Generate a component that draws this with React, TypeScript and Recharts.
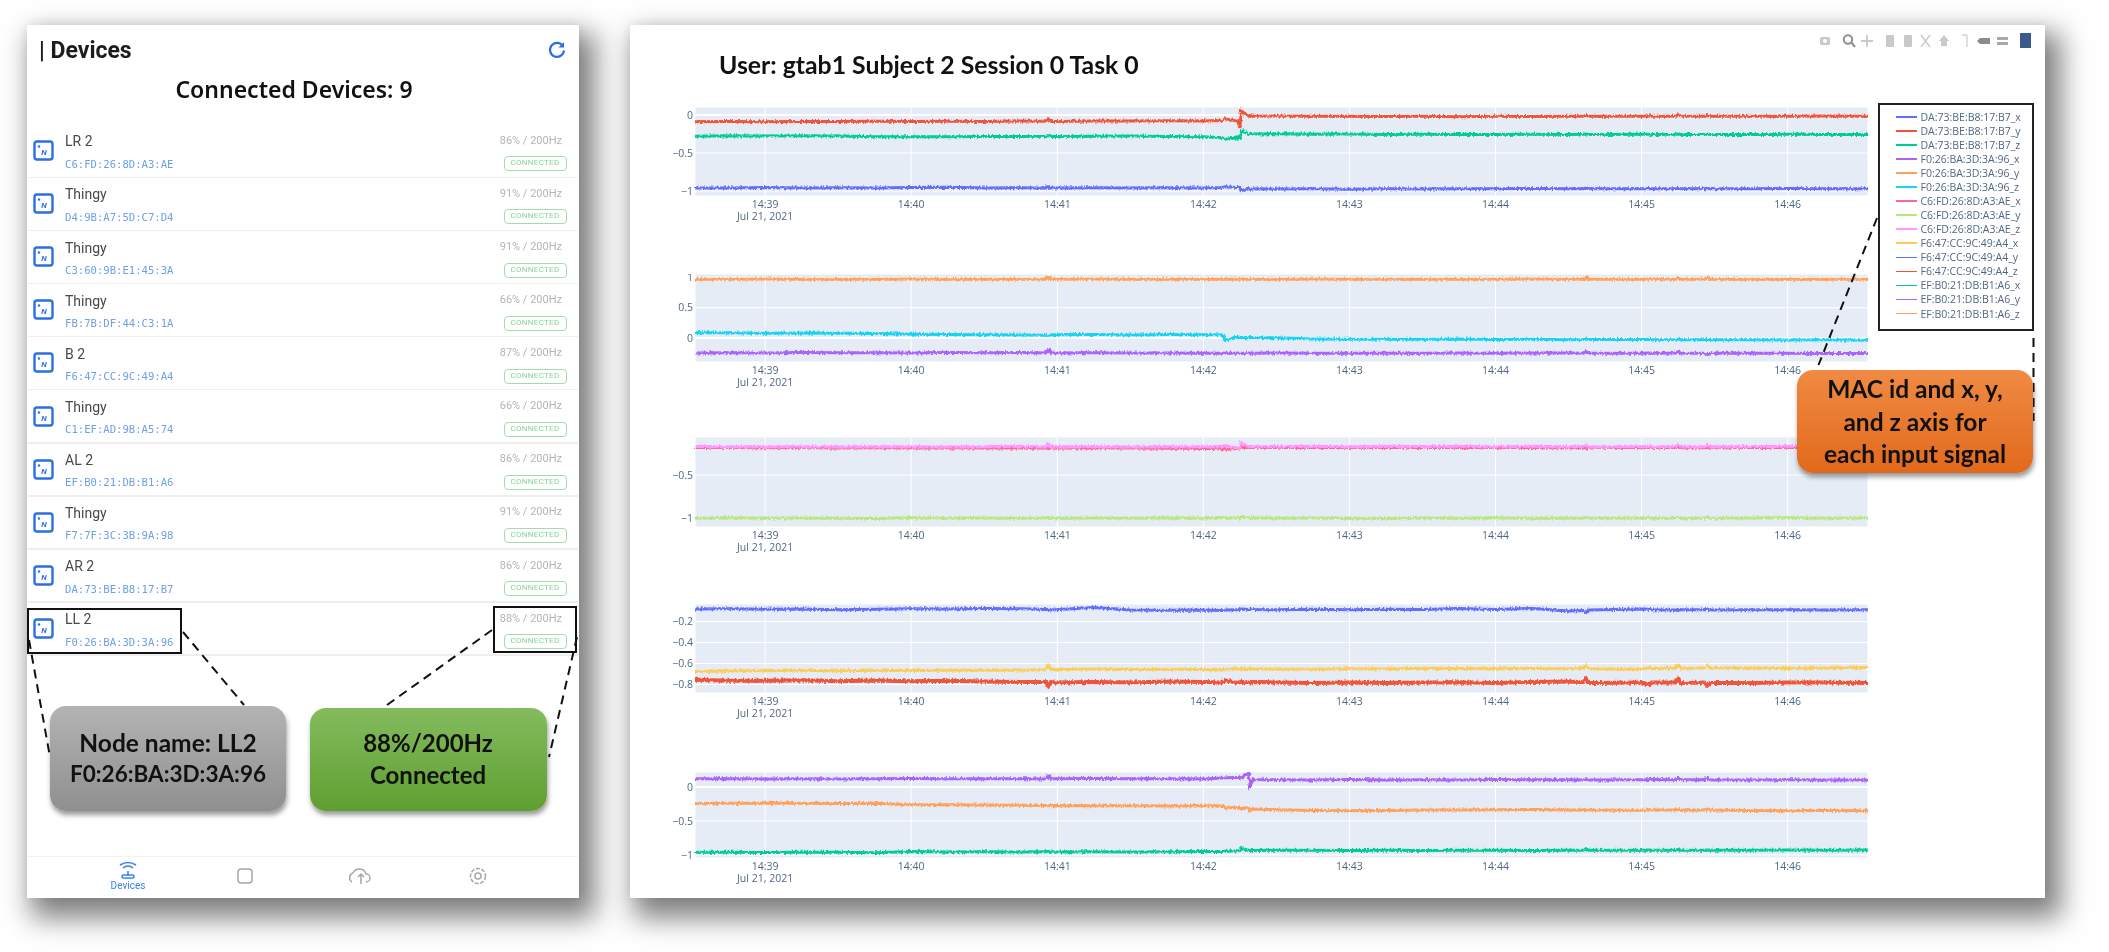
import { CartesianGrid, Line, LineChart, ReferenceLine, XAxis, YAxis } from 'recharts'

// minutes after 14:00
const minutes = [
  38.52, 38.75, 39, 39.25, 39.5, 39.75, 40, 40.25, 40.5, 40.75,
  40.92, 40.94, 40.96, 41.25, 41.5, 41.75, 42, 42.13, 42.15, 42.235,
  42.25, 42.26, 42.31, 42.32, 42.34, 42.5, 42.75, 43, 43.25, 43.5,
  43.75, 44, 44.25, 44.5, 44.6, 44.62, 44.64, 45, 45.05, 45.07,
  45.23, 45.25, 45.27, 45.43, 45.45, 45.47, 45.75, 46, 46.25, 46.55,
]
const minuteTicks = [39, 40, 41, 42, 43, 44, 45, 46]

const daX = [
  -0.96, -0.962, -0.955, -0.96, -0.957, -0.962, -0.955, -0.952, -0.96, -0.956,
  -0.965, -0.94, -0.96, -0.956, -0.96, -0.957, -0.96, -0.955, -0.945, -0.955,
  -0.95, -0.995, -0.972, -0.976, -0.97, -0.975, -0.972, -0.976, -0.97, -0.974,
  -0.97, -0.972, -0.968, -0.972, -0.97, -0.96, -0.97, -0.972, -0.968, -0.97,
  -0.972, -0.965, -0.97, -0.972, -0.968, -0.97, -0.972, -0.968, -0.971, -0.97,
]
const daY = [
  -0.09, -0.085, -0.088, -0.085, -0.087, -0.083, -0.086, -0.083, -0.085, -0.08,
  -0.082, -0.045, -0.085, -0.078, -0.08, -0.076, -0.078, -0.072, -0.05, -0.08,
  -0.17, 0.055, -0.02, -0.005, -0.018, -0.014, -0.018, -0.016, -0.02, -0.018,
  -0.022, -0.017, -0.02, -0.018, -0.016, -0.005, -0.018, -0.016, -0.01, -0.018,
  -0.012, 0.005, -0.014, -0.016, -0.008, -0.018, -0.016, -0.018, -0.015, -0.017,
]
const daZ = [
  -0.28, -0.272, -0.278, -0.274, -0.278, -0.286, -0.288, -0.286, -0.282, -0.284,
  -0.28, -0.27, -0.282, -0.28, -0.276, -0.282, -0.286, -0.3, -0.32, -0.3,
  -0.31, -0.205, -0.25, -0.238, -0.25, -0.246, -0.252, -0.25, -0.256, -0.252,
  -0.256, -0.258, -0.254, -0.256, -0.254, -0.25, -0.256, -0.254, -0.252, -0.256,
  -0.254, -0.25, -0.256, -0.258, -0.25, -0.256, -0.258, -0.255, -0.258, -0.258,
]
const f0X = [
  -0.245, -0.243, -0.245, -0.24, -0.244, -0.242, -0.245, -0.24, -0.244, -0.24,
  -0.245, -0.195, -0.248, -0.244, -0.247, -0.245, -0.25, -0.248, -0.252, -0.248,
  -0.25, -0.252, -0.248, -0.25, -0.252, -0.248, -0.252, -0.25, -0.252, -0.25,
  -0.248, -0.25, -0.246, -0.248, -0.25, -0.225, -0.25, -0.25, -0.246, -0.25,
  -0.248, -0.225, -0.25, -0.252, -0.28, -0.25, -0.252, -0.25, -0.254, -0.256,
]
const f0Y = [
  0.968, 0.97, 0.972, 0.968, 0.97, 0.968, 0.972, 0.97, 0.968, 0.97,
  0.968, 1.0, 0.97, 0.972, 0.968, 0.97, 0.968, 0.97, 0.972, 0.968,
  0.97, 0.972, 0.968, 0.97, 0.968, 0.97, 0.972, 0.968, 0.97, 0.968,
  0.97, 0.968, 0.972, 0.968, 0.97, 1.0, 0.968, 0.97, 0.972, 0.968,
  0.97, 0.985, 0.968, 0.97, 0.995, 0.968, 0.97, 0.968, 0.97, 0.97,
]
const f0Z = [
  0.085, 0.088, 0.08, 0.082, 0.078, 0.074, 0.062, 0.06, 0.055, 0.05,
  0.045, 0.04, 0.055, 0.058, 0.05, 0.058, 0.054, 0.052, -0.035, 0.015,
  0.005, 0.012, 0.006, 0.01, 0.008, 0.004, -0.015, -0.022, -0.02, -0.022,
  -0.016, -0.024, -0.02, -0.03, -0.024, -0.016, -0.026, -0.026, -0.02, -0.03,
  -0.025, -0.018, -0.028, -0.03, -0.022, -0.03, -0.028, -0.034, -0.03, -0.036,
]
const c6X = [
  -0.186, -0.186, -0.188, -0.186, -0.19, -0.188, -0.19, -0.19, -0.192, -0.19,
  -0.19, -0.2, -0.19, -0.19, -0.192, -0.194, -0.196, -0.2, -0.205, -0.198,
  -0.19, -0.185, -0.186, -0.184, -0.186, -0.184, -0.186, -0.184, -0.186, -0.184,
  -0.186, -0.184, -0.186, -0.188, -0.186, -0.19, -0.186, -0.184, -0.186, -0.184,
  -0.186, -0.184, -0.186, -0.188, -0.184, -0.186, -0.184, -0.186, -0.184, -0.186,
]
const c6Y = [
  -0.995, -0.99, -0.995, -0.992, -0.995, -0.998, -0.99, -0.995, -0.992, -0.995,
  -0.992, -0.985, -0.995, -0.992, -0.995, -0.99, -0.995, -0.985, -0.995, -0.99,
  -0.995, -0.975, -0.995, -0.995, -0.99, -0.995, -0.992, -0.995, -0.998, -0.992,
  -0.995, -0.99, -0.995, -0.992, -0.995, -0.985, -0.995, -0.992, -0.99, -0.995,
  -0.992, -0.985, -0.995, -0.995, -0.985, -0.995, -0.992, -0.99, -0.995, -0.992,
]
const c6Z = [
  -0.175, -0.178, -0.176, -0.178, -0.18, -0.178, -0.176, -0.18, -0.178, -0.172,
  -0.18, -0.14, -0.178, -0.175, -0.18, -0.176, -0.178, -0.175, -0.165, -0.19,
  -0.18, -0.135, -0.178, -0.172, -0.176, -0.174, -0.172, -0.176, -0.17, -0.174,
  -0.172, -0.176, -0.172, -0.176, -0.17, -0.16, -0.18, -0.174, -0.17, -0.176,
  -0.172, -0.155, -0.176, -0.176, -0.158, -0.178, -0.174, -0.172, -0.176, -0.172,
]
const f6X = [
  -0.675, -0.668, -0.668, -0.665, -0.668, -0.664, -0.667, -0.665, -0.664, -0.662,
  -0.66, -0.62, -0.66, -0.652, -0.658, -0.655, -0.658, -0.66, -0.655, -0.65,
  -0.652, -0.65, -0.655, -0.65, -0.652, -0.652, -0.655, -0.65, -0.652, -0.645,
  -0.648, -0.65, -0.648, -0.65, -0.645, -0.62, -0.65, -0.655, -0.64, -0.65,
  -0.642, -0.615, -0.645, -0.642, -0.612, -0.64, -0.642, -0.645, -0.642, -0.638,
]
const f6Y = [
  -0.08, -0.078, -0.082, -0.08, -0.086, -0.082, -0.078, -0.08, -0.076, -0.078,
  -0.085, -0.082, -0.09, -0.066, -0.09, -0.092, -0.09, -0.094, -0.09, -0.088,
  -0.082, -0.08, -0.084, -0.08, -0.084, -0.086, -0.082, -0.088, -0.082, -0.084,
  -0.076, -0.084, -0.075, -0.098, -0.095, -0.112, -0.09, -0.08, -0.082, -0.086,
  -0.09, -0.094, -0.088, -0.088, -0.08, -0.09, -0.088, -0.088, -0.09, -0.086,
]
const f6Z = [
  -0.755, -0.765, -0.765, -0.76, -0.768, -0.762, -0.77, -0.765, -0.772, -0.775,
  -0.775, -0.815, -0.78, -0.775, -0.78, -0.772, -0.776, -0.78, -0.76, -0.785,
  -0.778, -0.775, -0.782, -0.778, -0.775, -0.78, -0.785, -0.78, -0.785, -0.782,
  -0.778, -0.785, -0.775, -0.772, -0.778, -0.745, -0.785, -0.78, -0.805, -0.78,
  -0.78, -0.75, -0.785, -0.78, -0.81, -0.785, -0.785, -0.78, -0.782, -0.786,
]
const efX = [
  -0.96, -0.962, -0.965, -0.96, -0.962, -0.966, -0.95, -0.955, -0.952, -0.956,
  -0.954, -0.94, -0.955, -0.952, -0.956, -0.953, -0.95, -0.948, -0.945, -0.94,
  -0.935, -0.905, -0.935, -0.93, -0.935, -0.932, -0.93, -0.935, -0.93, -0.934,
  -0.93, -0.932, -0.935, -0.93, -0.932, -0.91, -0.932, -0.93, -0.928, -0.932,
  -0.93, -0.922, -0.932, -0.93, -0.926, -0.932, -0.93, -0.928, -0.93, -0.928,
]
const efY = [
  0.12, 0.122, 0.118, 0.12, 0.118, 0.122, 0.125, 0.12, 0.122, 0.12,
  0.118, 0.165, 0.12, 0.125, 0.122, 0.12, 0.118, 0.13, 0.135, 0.14,
  0.138, 0.13, 0.212, 0.02, 0.105, 0.105, 0.102, 0.108, 0.104, 0.106,
  0.104, 0.108, 0.105, 0.106, 0.104, 0.125, 0.102, 0.106, 0.108, 0.11,
  0.106, 0.13, 0.105, 0.106, 0.13, 0.104, 0.104, 0.106, 0.103, 0.104,
]
const efZ = [
  -0.245, -0.24, -0.238, -0.24, -0.242, -0.24, -0.262, -0.262, -0.266, -0.27,
  -0.272, -0.276, -0.274, -0.278, -0.275, -0.28, -0.278, -0.28, -0.31, -0.3,
  -0.31, -0.32, -0.305, -0.35, -0.325, -0.335, -0.345, -0.35, -0.345, -0.34,
  -0.34, -0.335, -0.33, -0.34, -0.338, -0.33, -0.34, -0.342, -0.335, -0.34,
  -0.338, -0.33, -0.342, -0.338, -0.325, -0.34, -0.348, -0.35, -0.346, -0.35,
]

const deviceNames = ['LR 2', 'Thingy', 'Thingy', 'Thingy', 'B 2', 'Thingy', 'AL 2', 'Thingy', 'AR 2', 'LL 2']
const deviceMacs = [
  'C6:FD:26:8D:A3:AE', 'D4:9B:A7:5D:C7:D4', 'C3:60:9B:E1:45:3A', 'FB:7B:DF:44:C3:1A', 'F6:47:CC:9C:49:A4',
  'C1:EF:AD:9B:A5:74', 'EF:B0:21:DB:B1:A6', 'F7:7F:3C:3B:9A:98', 'DA:73:BE:B8:17:B7', 'F0:26:BA:3D:3A:96',
]
const deviceRates = ['86%', '91%', '91%', '66%', '87%', '66%', '86%', '91%', '86%', '88%']

const legendOrder = [
  { name: 'DA:73:BE:B8:17:B7_x', color: '#636EFA', values: daX },
  { name: 'DA:73:BE:B8:17:B7_y', color: '#EF553B', values: daY },
  { name: 'DA:73:BE:B8:17:B7_z', color: '#00CC96', values: daZ },
  { name: 'F0:26:BA:3D:3A:96_x', color: '#AB63FA', values: f0X },
  { name: 'F0:26:BA:3D:3A:96_y', color: '#FFA15A', values: f0Y },
  { name: 'F0:26:BA:3D:3A:96_z', color: '#19D3F3', values: f0Z },
  { name: 'C6:FD:26:8D:A3:AE_x', color: '#FF6692', values: c6X },
  { name: 'C6:FD:26:8D:A3:AE_y', color: '#B6E880', values: c6Y },
  { name: 'C6:FD:26:8D:A3:AE_z', color: '#FF97FF', values: c6Z },
  { name: 'F6:47:CC:9C:49:A4_x', color: '#FECB52', values: f6X },
  { name: 'F6:47:CC:9C:49:A4_y', color: '#636EFA', values: f6Y },
  { name: 'F6:47:CC:9C:49:A4_z', color: '#EF553B', values: f6Z },
  { name: 'EF:B0:21:DB:B1:A6_x', color: '#00CC96', values: efX },
  { name: 'EF:B0:21:DB:B1:A6_y', color: '#AB63FA', values: efY },
  { name: 'EF:B0:21:DB:B1:A6_z', color: '#FFA15A', values: efZ },
]

const panels = [
  { top: 107, height: 89, domain: [-1.066, 0.105], ticks: [-1, -0.5, 0], series: [0, 1, 2] },
  { top: 274, height: 88, domain: [-0.395, 1.055], ticks: [0, 0.5, 1], series: [3, 4, 5] },
  { top: 437, height: 90, domain: [-1.095, -0.065], ticks: [-1, -0.5], series: [6, 7, 8] },
  { top: 604, height: 89, domain: [-0.881, -0.032], ticks: [-0.8, -0.6, -0.4, -0.2], series: [9, 10, 11] },
  { top: 772, height: 86, domain: [-1.045, 0.22], ticks: [-1, -0.5, 0], series: [12, 13, 14] },
]

const rows = minutes.map((m, i) => {
  const row: Record<string, number> = { m }
  legendOrder.forEach((s) => {
    row[s.name] = s.values[i]
  })
  return row
})

const labelFont = '"Open Sans", sans-serif'
const calloutFont = 'Lato, sans-serif'
const axisColor = '#506784'

function TimeTick({ x, y, payload }: any) {
  return (
    <text x={x} y={y} textAnchor="middle" fill={axisColor} fontFamily={labelFont} fontSize={10.5}>
      <tspan x={x} dy={10}>{`14:${payload.value}`}</tspan>
      {payload.value === 39 && <tspan x={x} dy={12}>Jul 21, 2021</tspan>}
    </text>
  )
}

function SignalPanel({ top, height, domain, ticks, series }: any) {
  return (
    <div style={{ position: 'absolute', left: 630, top }}>
      <LineChart width={1238} height={height + 32} data={rows} margin={{ top: 0, right: 0, bottom: 0, left: 0 }}>
        <CartesianGrid fill="#E5ECF6" stroke="#ffffff" strokeWidth={1} />
        <XAxis
          dataKey="m"
          type="number"
          domain={[38.52, 46.55]}
          ticks={minuteTicks}
          interval={0}
          height={32}
          axisLine={false}
          tickLine={false}
          tickSize={0}
          tick={<TimeTick />}
        />
        <YAxis
          type="number"
          domain={domain}
          ticks={ticks}
          interval={0}
          width={65}
          axisLine={false}
          tickLine={false}
          tickSize={0}
          tickMargin={2}
          tick={{ fill: axisColor, fontSize: 10.5, fontFamily: labelFont }}
          tickFormatter={(v: number) => String(v).replace('-', '\u2212')}
        />
        {ticks.includes(0) && <ReferenceLine y={0} stroke="#ffffff" strokeWidth={2} />}
        {series.map((idx: number) => (
          <Line
            key={idx}
            dataKey={legendOrder[idx].name}
            stroke={legendOrder[idx].color}
            strokeWidth={idx === 11 ? 4 : 3}
            dot={false}
            isAnimationActive={false}
          />
        ))}
      </LineChart>
    </div>
  )
}

function Txt({ x, y, children, style, align = 'left' }: any) {
  const shift = align === 'center' ? '-50%' : align === 'right' ? '-100%' : '0'
  return (
    <div
      style={{
        position: 'absolute',
        left: x,
        top: y,
        transform: `translate(${shift}, -50%)`,
        lineHeight: 1,
        whiteSpace: 'nowrap',
        ...style,
      }}
    >
      {children}
    </div>
  )
}

function DeviceRow({ index }: { index: number }) {
  const dy = index * 53.1
  return (
    <>
      <svg style={{ position: 'absolute', left: 33, top: 140 + dy }} width={22} height={22}>
        <rect x={1.5} y={1.5} width={18} height={18} rx={2.5} fill="#fff" stroke="#2b6fe6" strokeWidth={2.4} />
        <circle cx={6} cy={6.5} r={1.2} fill="#2b6fe6" />
        <text x={11} y={15} textAnchor="middle" fontSize={8} fontStyle="italic" fontWeight={700} fill="#2b6fe6" fontFamily="Roboto">
          N
        </text>
      </svg>
      <Txt x={65} y={141.3 + dy} style={{ fontFamily: 'Roboto', fontSize: 14, color: '#484848' }}>
        {deviceNames[index]}
      </Txt>
      <Txt x={65} y={163.7 + dy} style={{ fontFamily: '"DejaVu Sans Mono", monospace', fontSize: 10.6, color: '#6ea0e6' }}>
        {deviceMacs[index]}
      </Txt>
      <Txt x={562} y={139.7 + dy} align="right" style={{ fontFamily: 'Roboto', fontSize: 11, color: '#b4b4b4' }}>
        {`${deviceRates[index]} / 200Hz`}
      </Txt>
      <div
        style={{
          position: 'absolute',
          left: 503.5,
          top: 156.3 + dy,
          width: 63,
          height: 15,
          boxSizing: 'border-box',
          border: '1.4px solid #a5dcae',
          borderRadius: 4,
          fontFamily: 'Roboto',
          fontSize: 8,
          letterSpacing: 0.3,
          lineHeight: '12.5px',
          color: '#86d494',
          textAlign: 'center',
        }}
      >
        CONNECTED
      </div>
      <div style={{ position: 'absolute', left: 28, top: 176.5 + dy, width: 550, height: 1.5, background: '#eeeeee' }} />
    </>
  )
}

const cardShadow = '10px 14px 26px 6px rgba(0,0,0,0.5), 0 0 10px rgba(0,0,0,0.06)'
const calloutShadow = '1px 4px 5px rgba(0,0,0,0.4)'

function Callout({ left, top, width, height, gradient, lines, cx, font }: any) {
  return (
    <>
      <div
        style={{
          position: 'absolute',
          left,
          top,
          width,
          height,
          borderRadius: 16,
          background: gradient,
          boxShadow: calloutShadow,
        }}
      />
      {lines.map((l: any) => (
        <Txt key={l.t} x={cx} y={l.y} align="center" style={{ fontFamily: calloutFont, fontWeight: 700, fontSize: l.size ?? font, color: '#111' }}>
          {l.t}
        </Txt>
      ))}
    </>
  )
}

function ModeBar() {
  return (
    <svg style={{ position: 'absolute', left: 1810, top: 30 }} width={230} height={22}>
      <g fill="#c9c9c9" stroke="none">
        <rect x={10} y={7} width={10} height={8} rx={1.5} />
        <circle cx={15} cy={11} r={2} fill="#fff" />
        <circle cx={38} cy={9.5} r={4.2} fill="none" stroke="#909090" strokeWidth={2} />
        <path d="M41 12 L45 17" stroke="#909090" strokeWidth={2.2} />
        <path d="M57 5 V17 M51 11 H63" stroke="#c9c9c9" strokeWidth={1.8} />
        <rect x={76} y={5} width={8} height={12} rx={1} />
        <rect x={94} y={5} width={8} height={12} rx={1} />
        <path d="M111 5 L120 17 M120 5 L111 17" stroke="#c9c9c9" strokeWidth={1.4} />
        <path d="M134 5 L129 11 H131 V16 H137 V11 H139 Z" />
        <path d="M152 5 H157 M157 5 V17" stroke="#d2d2d2" strokeWidth={1.4} />
        <path d="M170 8 H180 V14 H170 L167 11 Z" fill="#8c8c8c" />
        <rect x={187} y={7} width={11} height={3} fill="#a8a8a8" />
        <rect x={187} y={12} width={11} height={3} fill="#a8a8a8" />
      </g>
      <rect x={210} y={3} width={11} height={15} fill="#3c5a8c" />
    </svg>
  )
}

export default function App() {
  return (
    <div style={{ position: 'fixed', left: 0, top: 0, width: 2109, height: 952, background: '#fff', overflow: 'hidden', filter: 'blur(0.45px)' }}>
      {/* sensor noise look on the traces */}
      <style>{'.recharts-line-curve { filter: url(#traceFuzz); }'}</style>
      <svg width={0} height={0} style={{ position: 'absolute' }}>
        <filter id="traceFuzz" filterUnits="userSpaceOnUse" x={0} y={0} width={1238} height={125}>
          <feTurbulence type="fractalNoise" baseFrequency="0.55 0.25" numOctaves={2} seed={4} />
          <feDisplacementMap in="SourceGraphic" scale={4} xChannelSelector="A" yChannelSelector="R" />
        </filter>
      </svg>

      {/* phone screen */}
      <div style={{ position: 'absolute', left: 27, top: 25, width: 552, height: 873, background: '#fff', boxShadow: cardShadow }} />
      <Txt x={39} y={50} style={{ fontFamily: 'Roboto', fontWeight: 700, fontSize: 23, color: '#1c1c1c' }}>
        | Devices
      </Txt>
      <Txt x={294} y={89} align="center" style={{ fontFamily: '"Noto Sans"', fontWeight: 600, fontSize: 23, color: '#111' }}>
        Connected Devices: 9
      </Txt>
      <svg style={{ position: 'absolute', left: 547, top: 40 }} width={20} height={20}>
        <path d="M15.5 5.5 A7 7 0 1 0 17 10.5" fill="none" stroke="#2b6fe6" strokeWidth={2.2} />
        <path d="M17 2 L17 7.5 L11.5 7.5 Z" fill="#2b6fe6" />
      </svg>
      {deviceNames.map((_, i) => (
        <DeviceRow key={i} index={i} />
      ))}
      <div style={{ position: 'absolute', left: 28, top: 856, width: 550, height: 1, background: '#f2f2f2' }} />
      <svg style={{ position: 'absolute', left: 0, top: 860 }} width={580} height={36}>
        <g fill="none" stroke="#3b82e8" strokeWidth={1.6}>
          <path d="M120 5 Q128 0 136 5" />
          <path d="M123 8 Q128 4 133 8" />
          <path d="M128 11 L128 16" />
          <rect x={122} y={15} width={12} height={3} rx={1.5} />
        </g>
        <g fill="none" stroke="#a8a8a8" strokeWidth={1.5}>
          <rect x={238} y={9} width={14} height={14} rx={3} />
          <path d="M352 22 a5 5 0 0 1 1 -9 a7 7 0 0 1 13 1 a4 4 0 0 1 0 8 M361 24 L361 14 M358 17 L361 14 L364 17" />
          <circle cx={478} cy={16} r={3} />
          <circle cx={478} cy={16} r={7.5} strokeDasharray="4 1.5" />
        </g>
      </svg>
      <Txt x={128} y={886} align="center" style={{ fontFamily: 'Roboto', fontSize: 10, color: '#3b82e8' }}>
        Devices
      </Txt>

      {/* plot card */}
      <div style={{ position: 'absolute', left: 630, top: 25, width: 1415, height: 873, background: '#fff', boxShadow: cardShadow }} />
      <Txt x={719} y={65} style={{ fontFamily: calloutFont, fontWeight: 700, fontSize: 24.8, color: '#111' }}>
        User: gtab1 Subject 2 Session 0 Task 0
      </Txt>
      <ModeBar />
      {panels.map((p) => (
        <SignalPanel key={p.top} {...p} />
      ))}

      {/* legend */}
      <div style={{ position: 'absolute', left: 1878, top: 102.5, width: 156, height: 228, boxSizing: 'border-box', border: '2px solid #222', background: '#fff' }} />
      {legendOrder.map((s, i) => (
        <div key={s.name}>
          <div style={{ position: 'absolute', left: 1895.5, top: 116 + i * 14.05, width: 21.5, height: 1.6, background: s.color }} />
          <Txt x={1920.5} y={116.8 + i * 14.05} style={{ fontFamily: labelFont, fontSize: 10.5, color: axisColor }}>
            {s.name}
          </Txt>
        </div>
      ))}

      {/* callouts */}
      <div style={{ position: 'absolute', left: 26.5, top: 607.5, width: 155, height: 46, boxSizing: 'border-box', border: '2px solid #111' }} />
      <div style={{ position: 'absolute', left: 492.5, top: 606, width: 84, height: 46.5, boxSizing: 'border-box', border: '2px solid #111' }} />
      <svg style={{ position: 'absolute', left: 0, top: 0 }} width={2109} height={952}>
        <g stroke="#111" strokeWidth={2} strokeDasharray="9 6" fill="none">
          <path d="M29 640 L50 757" />
          <path d="M183 632 L244 705" />
          <path d="M492 630 L387 705" />
          <path d="M577 637 L549 757" />
          <path d="M1877 218 L1818.5 365" />
          <path d="M2033.5 338 L2033.5 421" />
        </g>
      </svg>
      <Callout
        left={50}
        top={705.5}
        width={236}
        height={105}
        gradient="linear-gradient(#b3b3b3, #8f8f8f)"
        cx={168}
        font={24.5}
        lines={[{ t: 'Node name: LL2', y: 743 }, { t: 'F0:26:BA:3D:3A:96', y: 774, size: 22.5 }]}
      />
      <Callout
        left={310}
        top={707.5}
        width={237}
        height={103}
        gradient="linear-gradient(#84bb5e, #5f9f30)"
        cx={428}
        font={24}
        lines={[{ t: '88%/200Hz', y: 743 }, { t: 'Connected', y: 775 }]}
      />
      <Callout
        left={1797}
        top={370}
        width={236}
        height={103}
        gradient="linear-gradient(#f08a44, #e2691b)"
        cx={1915}
        font={24.5}
        lines={[{ t: 'MAC id and x, y,', y: 389 }, { t: 'and z axis for', y: 421.5 }, { t: 'each input signal', y: 454 }]}
      />
    </div>
  )
}
